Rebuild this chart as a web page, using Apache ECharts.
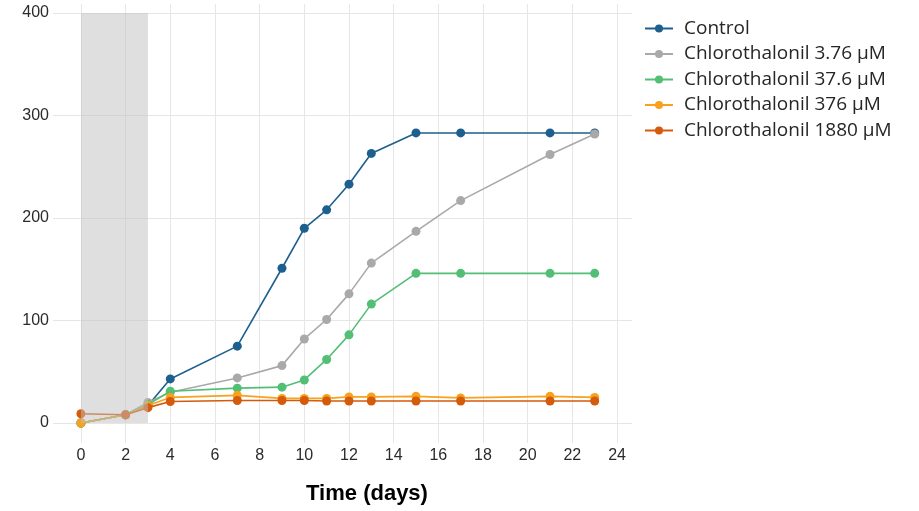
<!DOCTYPE html>
<html>
<head>
<meta charset="utf-8">
<script src="https://cdn.jsdelivr.net/npm/echarts@6/dist/echarts.min.js"></script>
<style>html,body{margin:0;padding:0;background:#fff}#c{width:919px;height:511px}</style>
</head>
<body>
<div id="c"></div>
<script>
const days = [0, 2, 3, 4, 7, 9, 10, 11, 12, 13, 15, 17, 21, 23];
const seriesNames = ['Control', 'Chlorothalonil 3.76 µM', 'Chlorothalonil 37.6 µM', 'Chlorothalonil 376 µM', 'Chlorothalonil 1880 µM'];
const control   = [0, 8, 17, 43, 75, 151, 190, 208, 233, 263, 283, 283, 283, 283];
const chl376u   = [0, 8, 20, 30, 44, 56, 82, 101, 126, 156, 187, 217, 262, 282];
const chl376    = [0, 8, 18, 31, 34, 35, 42, 62, 86, 116, 146, 146, 146, 146];
const chl3760   = [0, 8, 17, 25, 27, 24, 24, 24, 25.5, 25.5, 26, 24.5, 26, 25];
const chl18800  = [9, 8, 15, 21, 22, 22, 22, 21.5, 21.5, 21.5, 21.5, 21.5, 21.5, 21.5];
const xTicks = [0, 2, 4, 6, 8, 10, 12, 14, 16, 18, 20, 22, 24];
const yTicks = [0, 100, 200, 300, 400];
const shadeX = [0, 3];
const shadeY = [0, 400];
const xTitle = 'Time (days)';
const colors = ['#1d5f8e', '#a9a9a9', '#52bf75', '#f7a11c', '#d45a0c'];
const values = [control, chl376u, chl376, chl3760, chl18800];

const series = values.map((v, i) => ({
  name: seriesNames[i],
  type: 'line',
  data: days.map((d, j) => [d, v[j]]),
  symbol: 'circle',
  symbolSize: 9,
  lineStyle: { width: 1.6, color: colors[i] },
  itemStyle: { color: colors[i] },
  z: 2 + i * 0.1
}));
series.push({
  type: 'line',
  data: [],
  markArea: {
    silent: true,
    z: 10,
    itemStyle: { color: 'rgba(192,192,192,0.5)' },
    data: [[{ coord: [shadeX[0], shadeY[0]] }, { coord: [shadeX[1], shadeY[1]] }]]
  }
});

const chart = echarts.init(document.getElementById('c'));
chart.setOption({
  animation: false,
  color: colors,
  grid: { left: 53, right: 287, top: 4, bottom: 68, containLabel: false, outerBoundsMode: 'none' },
  legend: {
    orient: 'vertical',
    left: 639,
    top: 14,
    itemWidth: 28,
    itemHeight: 10,
    itemGap: 6.5,
    data: seriesNames,
    textStyle: { fontFamily: 'Open Sans', fontSize: 19, color: '#262626', padding: [0, 0, 0, 6] }
  },
  graphic: [{
    type: 'text',
    x: 367,
    y: 494,
    style: { text: xTitle, fontFamily: 'Liberation Sans', fontSize: 22, fontWeight: 'bold', fill: '#000', align: 'center', verticalAlign: 'middle' }
  }],
  xAxis: {
    type: 'value',
    min: -1.25,
    max: 24.67,
    axisLine: { show: false },
    axisTick: { show: false, customValues: xTicks },
    axisLabel: { customValues: xTicks, fontFamily: 'Liberation Sans', fontSize: 16, color: '#2b2b2b', margin: 5 },
    splitLine: { show: true, lineStyle: { color: '#e6e6e6', width: 1 } }
  },
  yAxis: {
    type: 'value',
    min: -19.5,
    max: 408.8,
    axisLine: { show: false },
    axisTick: { show: false, customValues: yTicks },
    axisLabel: { customValues: yTicks, fontFamily: 'Liberation Sans', fontSize: 16, color: '#2b2b2b', margin: 4 },
    splitLine: { show: true, lineStyle: { color: '#e6e6e6', width: 1 } }
  },
  series: series
});
</script>
</body>
</html>
